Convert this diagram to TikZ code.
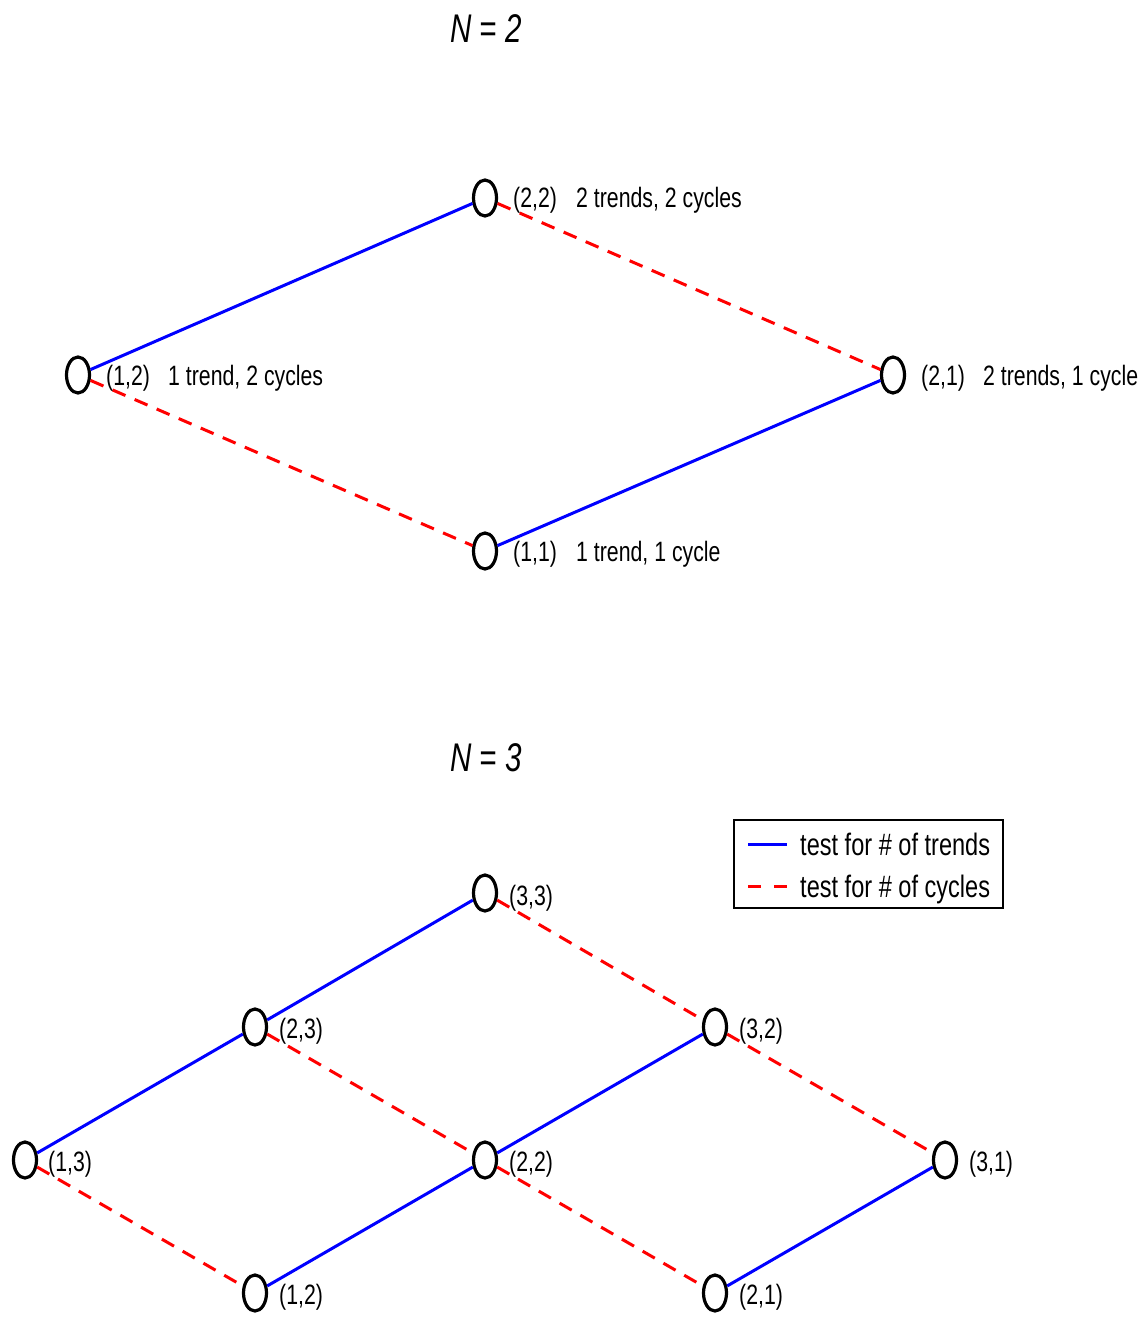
\documentclass[tikz,border=0pt]{standalone}
\usepackage{fontspec}
\newfontfamily\lbl{Liberation Sans}[FakeStretch=0.76]
\newfontfamily\ttlfont{Liberation Sans}[FakeStretch=0.74]
\usetikzlibrary{shapes.geometric}
\begin{document}
\begin{tikzpicture}[x=1pt,y=-1pt,
 vtx/.style={ellipse,draw=black,line width=3.2pt,fill=white,minimum width=23pt,minimum height=36pt,inner sep=0pt},
 trend/.style={draw=blue,line width=3pt},
 cyc/.style={draw=red,line width=3pt,dash pattern=on 14pt off 10pt},
 lab/.style={anchor=base west,font=\lbl\fontsize{28}{32}\selectfont,inner sep=0pt},
 leglab/.style={anchor=base west,font=\lbl\fontsize{31}{35}\selectfont,inner sep=0pt},
 ttl/.style={anchor=base,font=\ttlfont\itshape\fontsize{40}{44}\selectfont,inner sep=0pt}]
\useasboundingbox (0,0) rectangle (1143,1321);
% ---- N = 2 ----
\node[ttl] (t2) at (486,43) {N = 2};
\node[vtx] (a12) at (78,375) {};
\node[vtx] (a22) at (485,198) {};
\node[vtx] (a21) at (893,375) {};
\node[vtx] (a11) at (485,551) {};
\draw[trend] (a12) -- (a22);
\draw[trend] (a11) -- (a21);
\draw[cyc] (a22) -- (a21);
\draw[cyc] (a12) -- (a11);
\node[lab] (l12) at (106,385) {(1,2)};
\node[lab] (m12) at (168,385) {1 trend, 2 cycles};
\node[lab] (l22) at (513,208) {(2,2)};
\node[lab] (m22) at (576,208) {2 trends, 2 cycles};
\node[lab] (l21) at (921,385) {(2,1)};
\node[lab] (m21) at (983,385) {2 trends, 1 cycle};
\node[lab] (l11) at (513,561) {(1,1)};
\node[lab] (m11) at (576,561) {1 trend, 1 cycle};
% ---- N = 3 ----
\node[ttl] (t3) at (486,771) {N = 3};
\node[vtx] (b33) at (485,893) {};
\node[vtx] (b23) at (255,1027) {};
\node[vtx] (b32) at (715,1027) {};
\node[vtx] (b13) at (25,1160) {};
\node[vtx] (b22) at (485,1160) {};
\node[vtx] (b31) at (945,1160) {};
\node[vtx] (b12) at (255,1293) {};
\node[vtx] (b21) at (715,1293) {};
\draw[trend] (b13) -- (b23);
\draw[trend] (b23) -- (b33);
\draw[trend] (b12) -- (b22);
\draw[trend] (b22) -- (b32);
\draw[trend] (b21) -- (b31);
\draw[cyc] (b33) -- (b32);
\draw[cyc] (b32) -- (b31);
\draw[cyc] (b23) -- (b22);
\draw[cyc] (b22) -- (b21);
\draw[cyc] (b13) -- (b12);
\node[lab] (k33) at (509,905) {(3,3)};
\node[lab] (k23) at (279,1038) {(2,3)};
\node[lab] (k32) at (739,1038) {(3,2)};
\node[lab] (k13) at (48,1171) {(1,3)};
\node[lab] (k22) at (509,1171) {(2,2)};
\node[lab] (k31) at (969,1171) {(3,1)};
\node[lab] (k12) at (279,1304) {(1,2)};
\node[lab] (k21) at (739,1304) {(2,1)};
% ---- legend ----
\node[draw=black,line width=1.5pt,minimum width=269pt,minimum height=88pt,inner sep=0pt] (leg) at (868.5,864) {};
\coordinate (p1) at (748,844);
\coordinate (p2) at (787,844);
\coordinate (q1) at (748,886);
\coordinate (q2) at (787,886);
\draw[trend] (p1) -- (p2);
\draw[draw=red,line width=3pt,dash pattern=on 13pt off 13pt] (q1) -- (q2);
\node[leglab] (g1) at (800,855) {test for \# of trends};
\node[leglab] (g2) at (800,897) {test for \# of cycles};
\end{tikzpicture}
\end{document}
